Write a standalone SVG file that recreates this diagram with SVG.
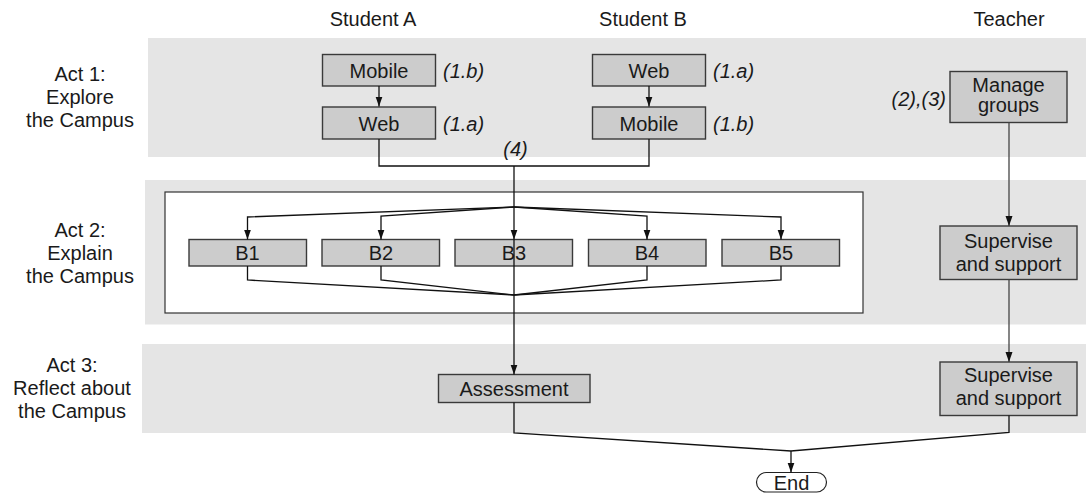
<svg xmlns="http://www.w3.org/2000/svg" width="1086" height="493" viewBox="0 0 1086 493">
<defs>
<marker id="arr" markerUnits="userSpaceOnUse" markerWidth="10" markerHeight="8" refX="10" refY="4" orient="auto">
<path d="M0,0.5 L10,4 L0,7.5 z" fill="#111"/>
</marker>
<style>
text{font-family:"Liberation Sans",Arial,sans-serif;font-size:20px;fill:#1a1a1a}
.c{text-anchor:middle}
.i{font-style:italic}
.band{fill:#e5e5e5}
.box{fill:#cccccc;stroke:#3a3a3a;stroke-width:1.4}
.con{fill:none;stroke:#111;stroke-width:1.3}
.tcon{fill:none;stroke:#444;stroke-width:1.3}
</style>
</defs>
<rect width="1086" height="493" fill="#fff"/>
<g id="bands">
<rect class="band" x="148" y="38" width="938" height="119"/>
<rect class="band" x="145" y="180" width="941" height="144.5"/>
<rect class="band" x="142" y="344" width="944" height="89"/>
<rect x="165" y="192" width="698" height="121" fill="#fff" stroke="#333" stroke-width="1.2"/>
</g>
<g id="headers">
<text class="c" x="373" y="26">Student A</text>
<text class="c" x="643" y="26">Student B</text>
<text class="c" x="1009" y="26">Teacher</text>
</g>
<g id="acts">
<text class="c" x="80" y="81">Act 1:</text>
<text class="c" x="80" y="104">Explore</text>
<text class="c" x="80" y="127">the Campus</text>
<text class="c" x="80" y="237">Act 2:</text>
<text class="c" x="80" y="260">Explain</text>
<text class="c" x="80" y="283">the Campus</text>
<text class="c" x="72" y="372">Act 3:</text>
<text class="c" x="72" y="395">Reflect about</text>
<text class="c" x="72" y="418">the Campus</text>
</g>
<g id="a-mobile">
<rect class="box" x="322.5" y="54.5" width="113" height="31.5"/>
<text class="c" x="379" y="77.5">Mobile</text>
<text class="i" x="443" y="78">(1.b)</text>
</g>
<g id="a-web">
<rect class="box" x="322.5" y="107" width="113" height="32"/>
<text class="c" x="379" y="130.5">Web</text>
<text class="i" x="443" y="130.5">(1.a)</text>
</g>
<g id="b-web">
<rect class="box" x="592.5" y="54.5" width="113" height="31.5"/>
<text class="c" x="649" y="77.5">Web</text>
<text class="i" x="713" y="78">(1.a)</text>
</g>
<g id="b-mobile">
<rect class="box" x="592.5" y="107" width="113" height="32"/>
<text class="c" x="649" y="130.5">Mobile</text>
<text class="i" x="713" y="130.5">(1.b)</text>
</g>
<g id="manage">
<rect class="box" x="950" y="71.5" width="117" height="51"/>
<text class="c" x="1008.5" y="91.5">Manage</text>
<text class="c" x="1008.5" y="111.5">groups</text>
<text class="i" x="946" y="106" text-anchor="end">(2),(3)</text>
</g>
<g id="b1"><rect class="box" x="189" y="239.5" width="117.5" height="26.5"/><text class="c" x="247.5" y="260">B1</text></g>
<g id="b2"><rect class="box" x="322" y="239.5" width="117.5" height="26.5"/><text class="c" x="381" y="260">B2</text></g>
<g id="b3"><rect class="box" x="455" y="239.5" width="117.5" height="26.5"/><text class="c" x="514" y="260">B3</text></g>
<g id="b4"><rect class="box" x="588.5" y="239.5" width="117.5" height="26.5"/><text class="c" x="647" y="260">B4</text></g>
<g id="b5"><rect class="box" x="722" y="239.5" width="117.5" height="26.5"/><text class="c" x="781" y="260">B5</text></g>
<g id="supervise2">
<rect class="box" x="940" y="226" width="137" height="53.5"/>
<text class="c" x="1008.5" y="248">Supervise</text>
<text class="c" x="1008.5" y="271">and support</text>
</g>
<g id="assessment">
<rect class="box" x="438.5" y="374.5" width="151.5" height="28"/>
<text class="c" x="514" y="396">Assessment</text>
</g>
<g id="supervise3">
<rect class="box" x="940" y="362" width="137" height="53.5"/>
<text class="c" x="1008.5" y="382">Supervise</text>
<text class="c" x="1008.5" y="405">and support</text>
</g>
<g id="end">
<rect x="756.5" y="472.5" width="70" height="19.5" rx="9.75" fill="#fff" stroke="#222" stroke-width="1.2"/>
<text class="c" x="791.5" y="490">End</text>
</g>
<g id="connectors">
<path class="con" d="M379,86 V106.5" marker-end="url(#arr)"/>
<path class="con" d="M649,86 V106.5" marker-end="url(#arr)"/>
<path class="con" d="M379,139 V166 H649 V139"/>
<text class="c i" x="515.5" y="156">(4)</text>
<path class="con" d="M514,166 V239.5" marker-end="url(#arr)"/>
<path class="con" d="M514,239.5 V374.5" marker-end="url(#arr)"/>
<path class="con" d="M514,207 L247.5,217 V239.5" marker-end="url(#arr)"/>
<path class="con" d="M514,207 L381,216 V239.5" marker-end="url(#arr)"/>
<path class="con" d="M514,207 L647,216 V239.5" marker-end="url(#arr)"/>
<path class="con" d="M514,207 L781,217 V239.5" marker-end="url(#arr)"/>
<path class="con" d="M247.5,266 V280 L514,295 L781,280 V266"/>
<path class="con" d="M381,266 V280 L514,295 L647,280 V266"/>
<path class="tcon" d="M1009,122.5 V226" marker-end="url(#arr)"/>
<path class="tcon" d="M1009,279.5 V362" marker-end="url(#arr)"/>
<path class="con" d="M514,402.5 V433 L791,451 L1009,432.5 V415.5"/>
<path class="con" d="M791,451 V472.5" marker-end="url(#arr)"/>
</g>
</svg>
